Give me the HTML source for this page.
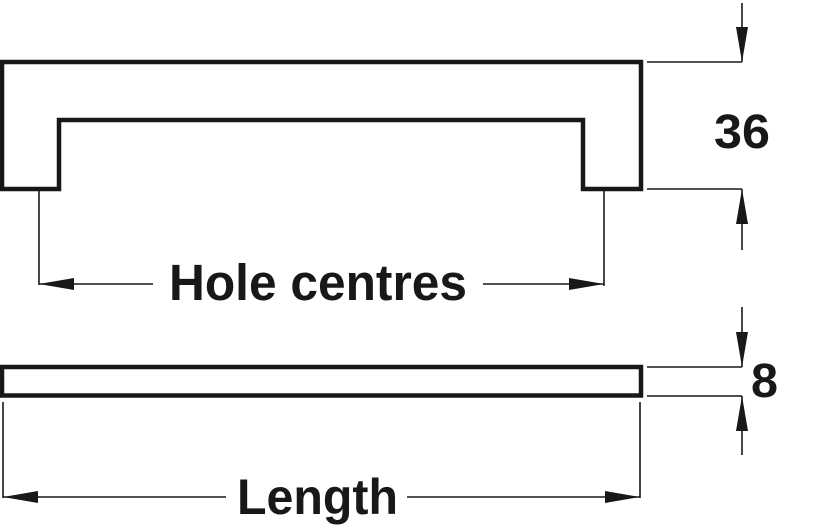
<!DOCTYPE html>
<html><head><style>html,body{margin:0;padding:0;background:#fff}svg{display:block}</style></head>
<body>
<svg width="825" height="525" viewBox="0 0 825 525" xmlns="http://www.w3.org/2000/svg">
<g fill="none" stroke="#1a1718" stroke-width="4.5" stroke-linejoin="miter">
<path d="M2 189 L2 62 L641 62 L641 189 L583 189 L583 120 L59 120 L59 189 Z"/>
<rect x="2" y="367" width="639" height="28.5"/>
</g>
<g stroke="#1a1718" stroke-width="1.6" fill="none">
<line x1="39" y1="191" x2="39" y2="285"/>
<line x1="604" y1="191" x2="604" y2="286"/>
<line x1="39" y1="284" x2="153" y2="284"/>
<line x1="483" y1="284" x2="604" y2="284"/>
<line x1="647" y1="62" x2="742" y2="62"/>
<line x1="647" y1="189" x2="742" y2="189"/>
<line x1="742" y1="3" x2="742" y2="62"/>
<line x1="742" y1="189" x2="742" y2="250"/>
<line x1="647" y1="367" x2="742" y2="367"/>
<line x1="647" y1="396" x2="742" y2="396"/>
<line x1="742" y1="307" x2="742" y2="367"/>
<line x1="742" y1="396" x2="742" y2="455"/>
<line x1="3" y1="402" x2="3" y2="498"/>
<line x1="640" y1="402" x2="640" y2="498"/>
<line x1="3" y1="497" x2="226" y2="497"/>
<line x1="407" y1="497" x2="640" y2="497"/>
</g>
<g fill="#1a1718">
<polygon points="39,284 74,278 74,290"/>
<polygon points="604,284 569,278 569,290"/>
<polygon points="742,62 736,27 748,27"/>
<polygon points="742,189 736,224 748,224"/>
<polygon points="742,367 736,332 748,332"/>
<polygon points="742,396 736,431 748,431"/>
<polygon points="3,497 38,491 38,503"/>
<polygon points="640,497 605,491 605,503"/>
</g>
<g fill="#1a1718" font-family="Liberation Sans, sans-serif" font-weight="bold">
<text x="169" y="300" font-size="51" textLength="298" lengthAdjust="spacingAndGlyphs">Hole centres</text>
<text x="237" y="514" font-size="50" textLength="161" lengthAdjust="spacingAndGlyphs">Length</text>
<text x="714" y="148" font-size="48" textLength="56" lengthAdjust="spacingAndGlyphs">36</text>
<text x="751" y="397" font-size="48" textLength="27" lengthAdjust="spacingAndGlyphs">8</text>
</g>
</svg>
</body></html>
